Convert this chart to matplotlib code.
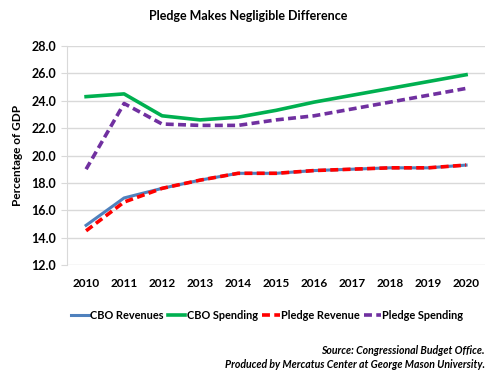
import matplotlib.pyplot as plt

plt.rcParams['font.family'] = ['Lato', 'DejaVu Sans']

#dados
anos = ['2010', '2011', '2012', '2013', '2014', '2015', '2016', '2017', '2018', '2019', '2020']
cbo_receita = [14.9, 16.9, 17.6, 18.2, 18.7, 18.7, 18.9, 19.0, 19.1, 19.1, 19.3]
cbo_gasto = [24.3, 24.5, 22.9, 22.6, 22.8, 23.3, 23.9, 24.4, 24.9, 25.4, 25.9]
pledge_receita = [14.5, 16.6, 17.6, 18.2, 18.7, 18.7, 18.9, 19.0, 19.1, 19.1, 19.3]
pledge_gasto = [19.0, 23.8, 22.3, 22.2, 22.2, 22.6, 22.9, 23.4, 23.9, 24.4, 24.9]

fig = plt.figure(figsize=(4.97, 3.73), dpi=100)
ax = fig.add_axes([0.135, 0.2895, 0.841, 0.5872])

x = range(len(anos))
ax.plot(x, cbo_receita, color='#4F81BD', lw=2.2, label='CBO Revenues')
ax.plot(x, cbo_gasto, color='#00B050', lw=2.6, label='CBO Spending')
ax.plot(x, pledge_receita, color='#FF0000', lw=2.6, ls=(0, (2.2, 1.2)), label='Pledge Revenue')
ax.plot(x, pledge_gasto, color='#7030A0', lw=2.6, ls=(0, (2.2, 1.2)), label='Pledge Spending')

ax.set_xlim(-0.5, 10.5)
ax.set_ylim(12, 28)
ax.set_yticks([12, 14, 16, 18, 20, 22, 24, 26, 28])
ax.set_yticklabels(['%.1f' % v for v in [12, 14, 16, 18, 20, 22, 24, 26, 28]], fontweight='bold', fontsize=9)
ax.set_xticks(list(x))
ax.set_xticklabels(anos, fontweight='bold', fontsize=8.5)
ax.tick_params(axis='x', length=0, pad=9)
ax.tick_params(axis='y', length=4, color='#D9D9D9', pad=4)
ax.grid(axis='y', color='#D9D9D9', lw=1)
ax.set_axisbelow(True)
for s in ['top', 'right', 'bottom']:
    ax.spines[s].set_visible(False)
ax.spines['left'].set_color('#D9D9D9')
ax.set_ylabel('Percentage of GDP', fontweight='bold', fontsize=8.5, labelpad=6)

fig.text(0.5, 0.958, 'Pledge Makes Negligible Difference', ha='center', va='center', fontweight='bold', fontsize=9)

fig.legend(loc='center', bbox_to_anchor=(0.538, 0.155), ncol=4, frameon=False,
           handlelength=1.6, handletextpad=0.1, columnspacing=0.4, prop={'weight': 'bold', 'size': 7.9})

fig.text(0.975, 0.059, 'Source: Congressional Budget Office.', ha='right', va='center',
         fontweight='bold', style='italic', fontsize=7.6)
fig.text(0.975, 0.0215, 'Produced by Mercatus Center at George Mason University.', ha='right', va='center',
         fontweight='bold', style='italic', fontsize=7.6)

fig.savefig('out.png', dpi=100)
